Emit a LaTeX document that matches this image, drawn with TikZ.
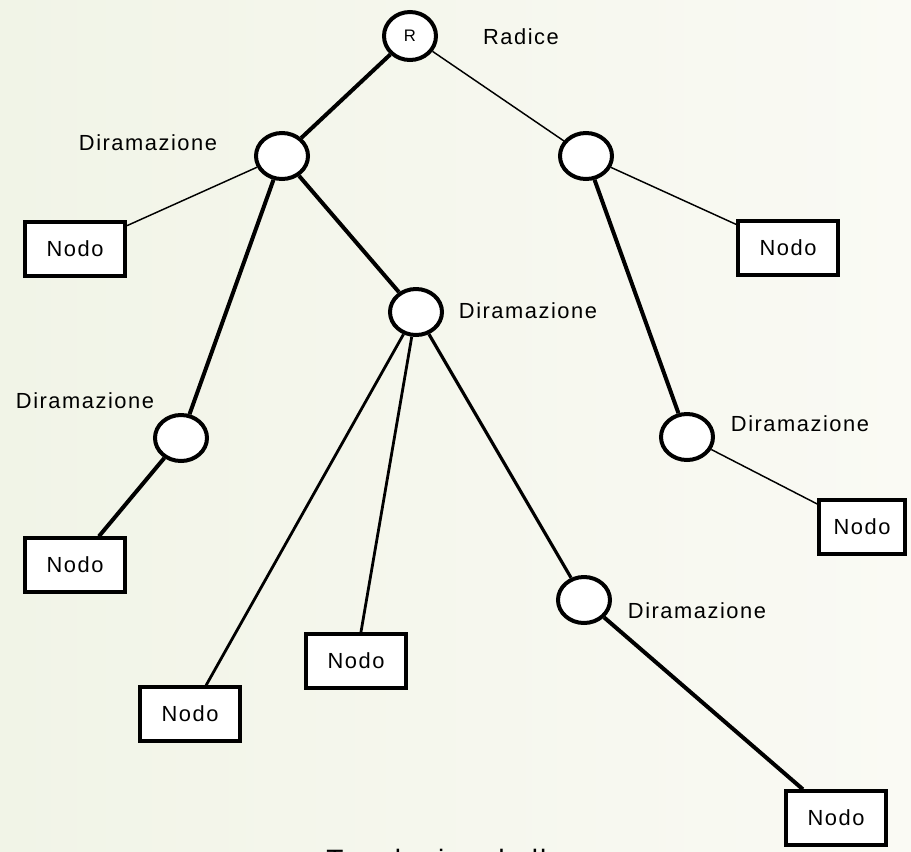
\documentclass[tikz,border=0pt]{standalone}
\usepackage{fontspec}
\setmainfont{Liberation Sans}[LetterSpace=7]
\usetikzlibrary{shapes.geometric}
\definecolor{bgl}{RGB}{241,244,231}
\definecolor{bgr}{RGB}{250,250,244}
\begin{document}
\begin{tikzpicture}[x=0.75pt,y=-0.75pt,
  dir/.style={ellipse,draw,fill=white,line width=3pt,minimum width=39pt,minimum height=34.5pt,inner sep=0pt},
  nodo/.style={rectangle,draw,fill=white,line width=3pt,minimum width=75pt,minimum height=40pt,inner sep=0pt,font=\fontsize{16.4}{19}\selectfont},
  lbl/.style={anchor=base,inner sep=0pt,font=\fontsize{16.4}{19}\selectfont},
  thickedge/.style={line width=3pt},
  thinedge/.style={line width=1.1pt},
  midedge/.style={line width=2.1pt}]
\useasboundingbox (0,0) rectangle (911,851);
\shade[left color=bgl,right color=bgr] (0,0) rectangle (911,851);

% circles
\node[dir,minimum height=36pt,font=\fontsize{12.5}{14}\selectfont] (r) at (410,36) {R};
\node[dir] (d1) at (282,156) {};
\node[dir] (d2) at (586,156) {};
\node[dir] (d3) at (416,312) {};
\node[dir] (d4) at (181,438) {};
\node[dir] (d5) at (687,437) {};
\node[dir] (d6) at (584,600) {};

% boxes
\node[nodo] (n1) at (75,249) {Nodo};
\node[nodo] (n2) at (788,248) {Nodo};
\node[nodo] (n3) at (75,565) {Nodo};
\node[nodo] (n4) at (190,714) {Nodo};
\node[nodo] (n5) at (356,661) {Nodo};
\node[nodo,minimum width=64pt] (n6) at (862,527) {Nodo};
\node[nodo] (n7) at (836,818) {Nodo};

% labels
\node[lbl] (lr) at (521,44) {Radice};
\node[lbl] (l1) at (148,150) {Diramazione};
\node[lbl] (l3) at (528,318) {Diramazione};
\node[lbl] (l4) at (85,408) {Diramazione};
\node[lbl] (l5) at (800,431) {Diramazione};
\node[lbl] (l6) at (697,618) {Diramazione};

\node[anchor=base west,inner sep=0pt,font=\fontsize{21}{25}\selectfont] (title) at (326,869) {Topologia ad albero};

% edges
\draw[thickedge] (r) -- (d1);
\draw[thinedge] (r) -- (d2);
\draw[thinedge] (d1) -- (n1);
\draw[thickedge] (d1) -- (d4);
\draw[thickedge] (d1) -- (d3);
\draw[thickedge] (d4) -- (n3);
\draw[midedge] (d3) -- (n4);
\draw[midedge] (d3) -- (n5);
\draw[line width=2.4pt] (d3) -- (d6);
\draw[thickedge] (d6) -- (n7);
\draw[thickedge] (d2) -- (d5);
\draw[thinedge] (d2) -- (n2);
\draw[thinedge] (d5) -- (n6);
\end{tikzpicture}
\end{document}
